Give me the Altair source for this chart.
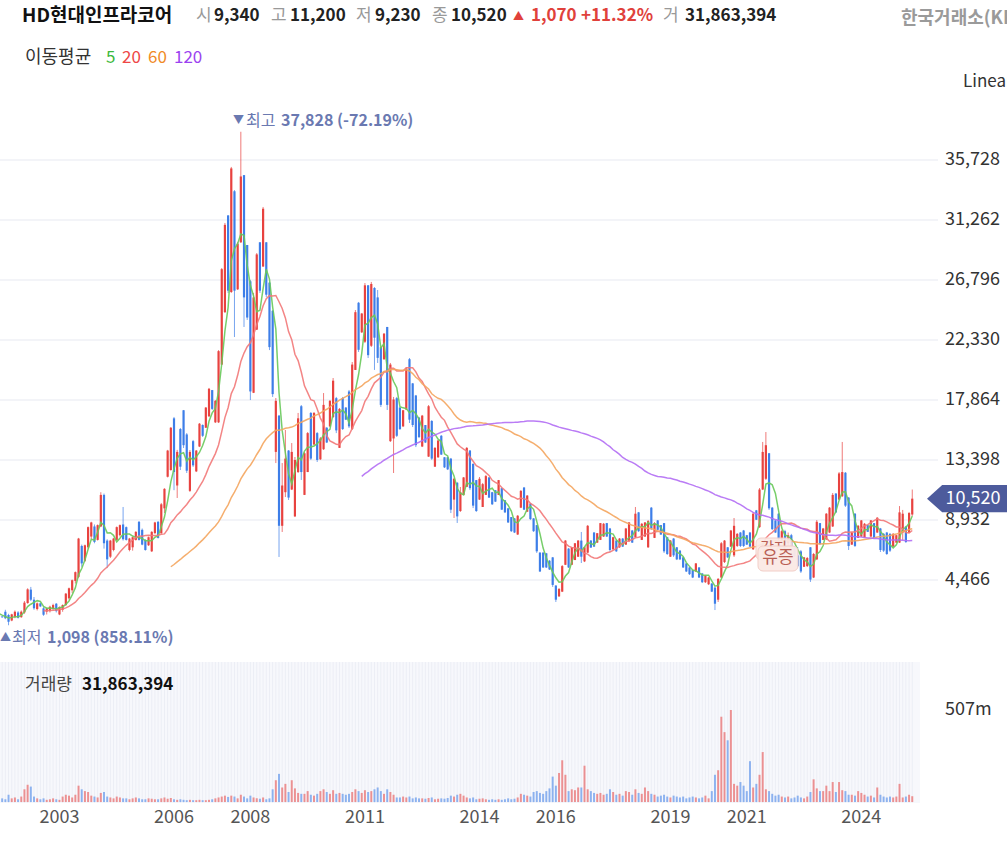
import altair as alt
import pandas as pd

FONT = "Noto Sans CJK KR"
UP = "#e8423f"
DOWN = "#3d7ee8"

# ---------------- data (monthly, index 0 = Jan 2001) ----------------
opens = [
    2450, 2400, 2300, 2100, 1900, 1800, 1750, 2100, 1860, 1450, 1700, 2050,
    1700, 2050, 2750, 3750, 3000, 2300, 2730, 2360, 2110, 2150, 2300, 2700,
    1900, 2250, 2600, 3100, 3700, 4400, 4700, 7000, 5900, 6900, 7700, 8450,
    7450, 8450, 10800, 7400, 6200, 6700, 7450, 7800, 8600, 8400, 6700, 6900,
    7450, 8800, 8200, 7450, 7050, 6600, 7950, 8800, 7950, 9800, 12150, 12650,
    16500, 11500, 15700, 17100, 15300, 11100, 14800, 12550, 14400, 16000, 15800, 16650,
    18600, 16200, 16200, 20500, 24400, 31600, 25900, 33400, 26100, 29600, 34600, 29400,
    26700, 18400, 23100, 29600, 27800, 29600, 26600, 24500, 14000, 16700, 8500, 11000,
    14100, 11200, 9200, 12500, 17400, 10800, 12500, 16900, 14550, 15400, 13450, 14200,
    15800, 15900, 16600, 18000, 14300, 18000, 17300, 18500, 15700, 20100, 25100, 22900,
    22200, 26400, 21900, 26200, 25500, 21800, 20900, 23300, 14800, 15000, 18000, 17300,
    15900, 17150, 20900, 19100, 18200, 16550, 14400, 16000, 13650, 16300, 12900, 13600,
    15200, 13600, 13600, 13500, 10450, 11700, 9600, 10800, 11400, 14100, 13100, 11900,
    10450, 9900, 10800, 12100, 11000, 11150, 10800, 11300, 10400, 9800, 9150, 9050,
    7850, 9850, 11350, 9550, 10150, 9050, 8550, 6500, 6500, 6450, 5900, 6150,
    4050, 3250, 3600, 5600, 6800, 5600, 5950, 6200, 7400, 5850, 6500, 7400,
    8000, 7250, 7450, 7700, 8700, 8300, 6750, 7400, 6900, 7550, 7100, 7350,
    8150, 7650, 9500, 7450, 7700, 6900, 9850, 7600, 8900, 8550, 8700, 7650,
    6200, 7550, 6900, 6650, 6150, 5700, 5400, 5200, 5100, 5400, 4950, 4300,
    4150, 4200, 3900, 3000, 4650, 5800, 6900, 6950, 6300, 7000, 8000, 8150,
    7800, 8000, 6750, 9650, 8400, 11200, 12000, 13900, 9850, 8900, 9400, 7400,
    8100, 7200, 7800, 6900, 6300, 6600, 5450, 5500, 6900, 4650, 6000, 8700,
    7450, 7500, 8000, 8450, 10900, 10450, 10700, 12450, 10600, 7100, 9400, 7600,
    7700, 7600, 8550, 7700, 8700, 8000, 8300, 7900, 8000, 7900, 6950, 7250,
    7250, 8000, 8450, 7990, 9340,
]
highs = [
    2500, 2450, 2350, 2150, 1950, 1900, 1800, 2250, 1950, 1950, 2200, 2150,
    2200, 2900, 3850, 3950, 3200, 2800, 2800, 2450, 2400, 2550, 2700, 2750,
    2500, 2650, 3500, 3900, 4500, 5100, 7600, 7100, 7100, 8450, 8800, 8600,
    8600, 11000, 10900, 7500, 7450, 7600, 8450, 8600, 9900, 8450, 7600, 7700,
    8100, 8850, 8300, 7500, 7700, 8100, 8800, 8850, 10200, 11300, 14150, 15850,
    16600, 14150, 15780, 17120, 15400, 14140, 14890, 14140, 16150, 16050, 17340, 18760,
    18610, 17860, 21580, 27690, 31040, 31630, 35210, 33490, 29620, 37828, 34610, 29400,
    26800, 25830, 28800, 29620, 32230, 29620, 26650, 24560, 18010, 16750, 13170, 15630,
    14140, 14660, 13620, 16900, 17490, 13990, 15480, 16970, 16970, 15480, 15110, 18380,
    15850, 17860, 19500, 18090, 17270, 18090, 17340, 18610, 20690, 24560, 25160, 24340,
    26570, 26420, 26650, 26270, 26050, 21810, 22850, 23300, 20620, 18090, 18090, 17340,
    17120, 20320, 20990, 19130, 18240, 16600, 16750, 16000, 17490, 16370, 14360, 14890,
    15260, 13620, 13620, 13550, 12060, 11760, 11390, 12130, 14360, 14140, 13170, 11910,
    12130, 11690, 12280, 12130, 11020, 11160, 11910, 11310, 10420, 9820, 9150, 9080,
    9300, 11160, 11390, 10790, 10200, 9080, 8560, 6550, 6550, 6480, 5950, 6180,
    4090, 3870, 5580, 7440, 6850, 6920, 7220, 7440, 8040, 6920, 8560, 7440,
    8040, 7960, 8710, 8710, 8710, 8340, 7670, 7440, 7590, 7590, 8340, 8780,
    8190, 9900, 9530, 8710, 8780, 8930, 9900, 8780, 8930, 8560, 8710, 7670,
    7440, 7590, 6920, 6700, 6180, 5730, 5430, 5210, 5730, 5430, 4990, 4840,
    4690, 4240, 3950, 4610, 7290, 7440, 6920, 8190, 9080, 7960, 8040, 8190,
    7820, 8040, 9530, 9680, 11310, 14740, 15480, 13920, 9900, 8930, 9450, 8200,
    8200, 8000, 7900, 6920, 6920, 6700, 6180, 6180, 6920, 6480, 8930, 8710,
    8340, 9450, 9900, 10940, 10940, 12500, 14740, 12500, 10640, 8040, 9450, 8560,
    8930, 8710, 8560, 8930, 8710, 9150, 8340, 7960, 8040, 7960, 7960, 7820,
    9970, 9680, 8490, 9530, 11200,
]
lows = [
    2300, 2250, 2050, 1850, 1750, 1700, 1650, 1550, 1098, 1400, 1620, 1600,
    1650, 1950, 2700, 2900, 2250, 2200, 2450, 1800, 1900, 2050, 2250, 2050,
    1850, 2100, 2550, 3000, 3500, 4200, 4600, 5450, 5800, 6800, 7500, 7200,
    7400, 8400, 6800, 5350, 6100, 6600, 7400, 7700, 7400, 7400, 6600, 6650,
    7400, 7400, 7050, 6650, 7000, 6550, 7900, 7550, 7900, 9450, 12100, 12600,
    11150, 10570, 12650, 14290, 12430, 11020, 12880, 12500, 14360, 15110, 15780, 16600,
    17120, 16150, 16150, 20470, 24340, 25830, 25830, 22550, 26050, 29550, 23300, 23820,
    17860, 18380, 23070, 25830, 27760, 25530, 21580, 18090, 13170, 6180, 8040, 10640,
    10420, 11160, 9150, 12430, 11910, 10790, 12500, 13400, 14510, 13250, 13400, 14140,
    14660, 15850, 16520, 15400, 14290, 15630, 16370, 15780, 15630, 20100, 21440, 22850,
    22100, 20990, 21810, 20100, 20620, 17340, 20840, 17120, 14740, 12430, 15110, 15630,
    15850, 17120, 16150, 15850, 14360, 15030, 14360, 14660, 13620, 13400, 12880, 13550,
    13770, 12800, 12650, 9450, 9080, 8710, 9530, 10790, 11390, 11160, 9820, 9530,
    10420, 9900, 10790, 10570, 10050, 10270, 10790, 9680, 9450, 8710, 8040, 7960,
    7820, 9820, 9680, 9530, 8930, 8040, 6480, 5060, 5360, 5360, 5210, 3950,
    2830, 3200, 3570, 5580, 5360, 5580, 5950, 6180, 5730, 5800, 6480, 6850,
    6920, 7220, 7440, 7670, 7670, 6550, 6700, 6550, 6850, 6920, 7070, 7290,
    7220, 7590, 8040, 7440, 7670, 6850, 8190, 7590, 8190, 7820, 6480, 6330,
    6180, 6180, 5950, 5950, 5360, 5060, 4840, 4610, 5060, 4610, 4240, 4240,
    4090, 3570, 2230, 2830, 4610, 5730, 6100, 6920, 6180, 6920, 6920, 6920,
    7070, 6920, 6700, 8930, 8340, 11160, 11910, 9680, 8190, 7960, 7440, 7300,
    7100, 7000, 6800, 6180, 5430, 4990, 5430, 5430, 4320, 4610, 5950, 7070,
    7440, 7440, 7960, 8410, 9450, 10420, 10640, 9900, 6700, 7070, 6920, 7590,
    7670, 7590, 8040, 7670, 7590, 7960, 6550, 6550, 6330, 6550, 6920, 7220,
    7220, 7440, 7220, 7960, 9230,
]
closes = [
    2400, 2300, 2100, 1900, 1800, 1750, 1700, 1610, 1360, 1910, 2110, 1650,
    2110, 2780, 3770, 3000, 2360, 2730, 2500, 1880, 2350, 2480, 2600, 2150,
    2450, 2600, 3450, 3850, 4450, 5050, 7550, 5700, 7050, 8400, 8750, 7300,
    8550, 10800, 7200, 6000, 7400, 7550, 8400, 8550, 7500, 7450, 7550, 7650,
    8050, 7450, 7100, 6700, 7650, 8050, 8750, 7600, 10100, 11250, 14100, 15800,
    12500, 14000, 12900, 14500, 12600, 14000, 13000, 14100, 16100, 15200, 17300, 18700,
    17200, 17800, 21500, 27600, 30900, 26000, 35100, 26000, 29500, 34500, 25500, 24000,
    18500, 25500, 28700, 26000, 32100, 25700, 21800, 18300, 17800, 8500, 11500, 13500,
    10600, 14000, 13400, 16500, 12500, 13900, 15400, 13500, 16900, 13400, 15000, 17500,
    14700, 17800, 19300, 15600, 17200, 15700, 16400, 15900, 20500, 24400, 21600, 24300,
    26400, 21200, 26500, 22500, 21000, 17500, 22800, 17500, 20500, 17900, 15200, 15700,
    17100, 20200, 16400, 16000, 14500, 15100, 16700, 14700, 17400, 13500, 14300, 14850,
    13800, 12850, 12700, 9700, 12000, 9200, 11000, 12100, 14300, 11300, 10000, 9600,
    12000, 11600, 12200, 10600, 10100, 10300, 11900, 9700, 9500, 8750, 8100, 8000,
    9250, 11100, 9700, 10750, 9000, 8100, 6600, 5100, 5400, 5400, 5250, 4100,
    3000, 3800, 5500, 7400, 5400, 6900, 7200, 7400, 6200, 6900, 8500, 6880,
    6950, 7950, 8700, 8650, 7700, 6700, 7650, 6600, 7550, 6950, 8300, 8750,
    7250, 9400, 8100, 8650, 8750, 8850, 8300, 8700, 8200, 7850, 6600, 6400,
    7400, 6300, 6000, 6000, 5400, 5100, 4900, 4650, 5700, 4650, 4300, 4800,
    4650, 3600, 2700, 4550, 7200, 7400, 6150, 8150, 8500, 7900, 7000, 7000,
    7100, 6950, 9400, 8950, 11200, 14000, 14500, 9800, 8250, 8000, 7500, 8100,
    7200, 7800, 6900, 6250, 5500, 5100, 6150, 6100, 4500, 6400, 8800, 7150,
    8300, 9400, 9850, 10800, 9500, 12400, 12500, 10000, 7000, 8000, 7000, 8500,
    8900, 8650, 8050, 8900, 7600, 9100, 6700, 6650, 6400, 6650, 7900, 7800,
    9500, 9400, 7300, 9450, 10520,
]
volumes_m = [
    20, 20, 20, 20, 20, 20, 20, 15, 40, 20, 25, 15,
    30, 70, 95, 85, 30, 20, 15, 20, 12, 15, 20, 15,
    12, 30, 40, 35, 25, 40, 90, 70, 60, 55, 35, 30,
    25, 50, 55, 30, 25, 20, 30, 25, 20, 20, 15, 20,
    25, 20, 15, 15, 20, 18, 15, 15, 20, 25, 18, 22,
    15, 12, 15, 12, 10, 12, 10, 10, 12, 10, 10, 12,
    15, 20, 25, 30, 35, 28, 35, 30, 20, 40, 30, 20,
    35, 25, 20, 18, 25, 15, 20, 70, 120, 155, 80, 100,
    55, 120, 75, 50, 45, 45, 60, 40, 35, 45, 60, 70,
    55, 45, 65, 45, 50, 45, 40, 45, 55, 70, 60, 50,
    65, 55, 60, 70, 80, 60, 45, 70, 55, 40, 25, 25,
    30, 25, 30, 20, 25, 20, 20, 18, 22, 25, 15, 18,
    20, 18, 22, 35, 30, 40, 45, 35, 25, 20, 25, 15,
    18, 20, 15, 12, 15, 12, 15, 12, 15, 20, 15, 18,
    25, 45, 40, 35, 30, 55, 60, 50, 45, 60, 75, 140,
    90, 160, 230, 150, 60, 70, 65, 80, 80, 200, 70, 60,
    50, 45, 50, 40, 45, 70, 55, 40, 45, 35, 60, 55,
    40, 70, 50, 45, 80, 60, 45, 40, 30, 35, 40, 30,
    25, 35, 30, 25, 30, 20, 25, 30, 25, 20, 25, 35,
    20, 60, 150, 175, 470, 385, 340, 507, 100, 90, 110, 90,
    60, 225, 80, 100, 150, 275, 70, 60, 45, 35, 40, 30,
    25, 30, 20, 25, 35, 25, 20, 30, 55, 125, 75, 60,
    60, 90, 60, 110, 55, 110, 65, 60, 40, 40, 35, 60,
    50, 40, 30, 35, 25, 80, 40, 30, 25, 30, 25, 30,
    100, 25, 30, 40, 31.86,
]
price_ticks = [4466, 8932, 13398, 17864, 22330, 26796, 31262, 35728]
year_labels = ["2003", "2006", "2008", "2011", "2014", "2016", "2019", "2021", "2024"]
ma_periods = [5, 20, 60, 120]
ma_colors = ["#68c95a", "#f27878", "#f4a55e", "#b36ef4"]
ma_legend_colors = ["#3cb93c", "#ee4646", "#f08a26", "#9b42f0"]

header_name = "HD현대인프라코어"
ohlc_labels = ["시", "고", "저", "종"]
ohlc_values = ["9,340", "11,200", "9,230", "10,520"]
change_parts = ["▲", "1,070", "+11.32%"]
volume_header = ["거", "31,863,394"]
exchange_name = "한국거래소(KRX)"
high_note = ["▼", "최고", "37,828 (-72.19%)"]
low_note = ["▲", "최저", "1,098 (858.11%)"]
event_labels = ["감자", "유증"]

n = len(closes)
assert len(opens) == n and len(highs) == n and len(lows) == n and len(volumes_m) == n

df = pd.DataFrame({"m": list(range(n)), "o": opens, "h": highs, "l": lows,
                   "c": closes, "v": volumes_m})
last = df.iloc[[-1]].reset_index(drop=True)
ticks_df = pd.DataFrame({"v": price_ticks})
years_df = pd.DataFrame({"label": year_labels,
                         "m": [(int(y) - 2001) * 12 for y in year_labels]})
one = pd.DataFrame({"a": [0]})

# ---------------- scales ----------------
W, H = 1007, 846
PX_PER_MONTH = 3.214
X0 = 24 - 55 / PX_PER_MONTH
X1 = X0 + W / PX_PER_MONTH
xs = alt.Scale(domain=[X0, X1], range=[0, W], nice=False, zero=False)
UNITS_PER_PX = 74.43
ps = alt.Scale(domain=[0, 40000], range=[640, 640 - 40000 / UNITS_PER_PX], nice=False, zero=False)
vs = alt.Scale(domain=[0, 507], range=[802, 710], nice=False, zero=True)


def X(f="m:Q"):
    return alt.X(f, scale=xs, axis=None)


def YP(f):
    return alt.Y(f, scale=ps, axis=None)


color_cond = alt.condition("datum.c >= datum.o", alt.value(UP), alt.value(DOWN))


def txt(s, x, y, size=17, color="#222", weight="normal", align="left"):
    return alt.Chart(one).mark_text(
        text=s, font=FONT, fontSize=size, color=color, fontWeight=weight,
        align=align, baseline="middle"
    ).encode(x=alt.value(x), y=alt.value(y))


layers = []

# gridlines
layers.append(alt.Chart(ticks_df).mark_rule(color="#eff0f6", strokeWidth=1.5).encode(
    x=alt.value(0), x2=alt.value(938), y=YP("v:Q")))

# volume panel
layers.append(alt.Chart(one).mark_rect(color="#f7f8fc").encode(
    x=alt.value(0), x2=alt.value(920), y=alt.value(662), y2=alt.value(803)))
layers.append(alt.Chart(df).mark_rule(color="#eceef5", strokeWidth=1).encode(
    x=X(), y=alt.value(662), y2=alt.value(803)))
layers.append(alt.Chart(df).mark_bar(width=2, opacity=0.55).encode(
    x=X(), y=alt.Y("v:Q", scale=vs, axis=None), color=color_cond))

# candles
layers.append(alt.Chart(df).mark_rule(strokeWidth=1, opacity=0.7).encode(
    x=X(), y=YP("l:Q"), y2="h:Q", color=color_cond))
layers.append(alt.Chart(df).mark_bar(width=2.2).encode(
    x=X(), y=YP("o:Q"), y2="c:Q", color=color_cond))

# moving averages
for k, col in zip(ma_periods, ma_colors):
    layers.append(
        alt.Chart(df)
        .transform_window(ma="mean(c)", frame=[-(k - 1), 0], sort=[alt.SortField("m")])
        .transform_filter(alt.datum.m >= k - 1)
        .mark_line(color=col, strokeWidth=1.5, opacity=0.9)
        .encode(x=X(), y=YP("ma:Q"))
    )

# price axis labels
layers.append(alt.Chart(ticks_df).mark_text(
    font=FONT, fontSize=18, color="#333", align="left", baseline="middle").encode(
    x=alt.value(945), y=YP("v:Q"), text=alt.Text("v:Q", format=",")))

# year labels
layers.append(alt.Chart(years_df).mark_text(
    font=FONT, fontSize=18, color="#555", align="center", baseline="middle").encode(
    x=X(), y=alt.value(818), text="label:N"))

# current price tag
TAG = "M-1,0L-0.62,-0.34L1,-0.34L1,0.34L-0.62,0.34Z"
layers.append(alt.Chart(last).mark_point(
    shape=TAG, size=6400, filled=True, color="#4d5b9c", opacity=1, strokeWidth=0).encode(
    x=alt.value(967), y=YP("c:Q")))
layers.append(alt.Chart(last).mark_text(
    font=FONT, fontSize=18, color="white", align="center", baseline="middle").encode(
    x=alt.value(973), y=YP("c:Q"), text=alt.Text("c:Q", format=",")))

# event label boxes
layers.append(alt.Chart(one).mark_rect(
    fill="#fbeae6", stroke="#f2cdc6", strokeWidth=1, cornerRadius=5, opacity=0.92).encode(
    x=alt.value(756), x2=alt.value(792), y=alt.value(538), y2=alt.value(560)))
layers.append(txt(event_labels[0], 774, 548, size=15, color="#b95f55", align="center"))
layers.append(alt.Chart(one).mark_rect(
    fill="#fbeae6", stroke="#f2cdc6", strokeWidth=1, cornerRadius=5, opacity=0.96).encode(
    x=alt.value(758), x2=alt.value(798), y=alt.value(546), y2=alt.value(571)))
layers.append(txt(event_labels[1], 778, 558, size=17, color="#b95f55", align="center"))

# header line 1
layers.append(txt(header_name, 22, 16, size=19, color="#111", weight="bold"))
lab_x = [196, 271, 356, 432]
val_x = [214, 290, 375, 451]
for s, xx in zip(ohlc_labels, lab_x):
    layers.append(txt(s, xx, 16, size=17, color="#999"))
for s, xx in zip(ohlc_values, val_x):
    layers.append(txt(s, xx, 16, size=17, color="#222", weight="bold"))
layers.append(txt(change_parts[0], 513, 17, size=11, color="#e0413b"))
layers.append(txt(change_parts[1], 531, 16, size=17, color="#e0413b", weight="bold"))
layers.append(txt(change_parts[2], 581, 16, size=17, color="#e0413b", weight="bold"))
layers.append(txt(volume_header[0], 663, 16, size=17, color="#999"))
layers.append(txt(volume_header[1], 685, 16, size=17, color="#222", weight="bold"))
layers.append(txt(exchange_name, 901, 19, size=18, color="#9a9a9a", weight="bold"))

# header line 2 (MA legend)
layers.append(txt("이동평균", 25, 58, size=18, color="#333"))
leg_x = [106, 122, 148, 174]
for p, col, xx in zip(ma_periods, ma_legend_colors, leg_x):
    layers.append(txt(str(p), xx, 58, size=17, color=col))
layers.append(txt("Linear", 963, 82, size=17, color="#333"))

# high / low notes
NOTE = "#6a79b1"
layers.append(txt(high_note[0], 233, 121, size=11, color=NOTE))
layers.append(txt(high_note[1], 246, 121, size=16, color=NOTE))
layers.append(txt(high_note[2], 281, 121, size=16, color=NOTE, weight="bold"))
layers.append(txt(low_note[0], 0, 638, size=11, color=NOTE))
layers.append(txt(low_note[1], 12, 638, size=16, color=NOTE))
layers.append(txt(low_note[2], 47, 638, size=16, color=NOTE, weight="bold"))

# volume header
layers.append(txt("거래량", 25, 685, size=17, color="#444"))
layers.append(txt(volume_header[1], 82, 685, size=17, color="#111", weight="bold"))
layers.append(txt("507m", 945, 710, size=18, color="#333"))

chart = (
    alt.layer(*layers)
    .resolve_scale(y="independent")
    .properties(width=W, height=H, padding=0,
                autosize=alt.AutoSizeParams(type="none"), background="white")
    .configure_view(strokeWidth=0)
)

chart.save("out.html", embed_options={"renderer": "svg", "actions": False})
